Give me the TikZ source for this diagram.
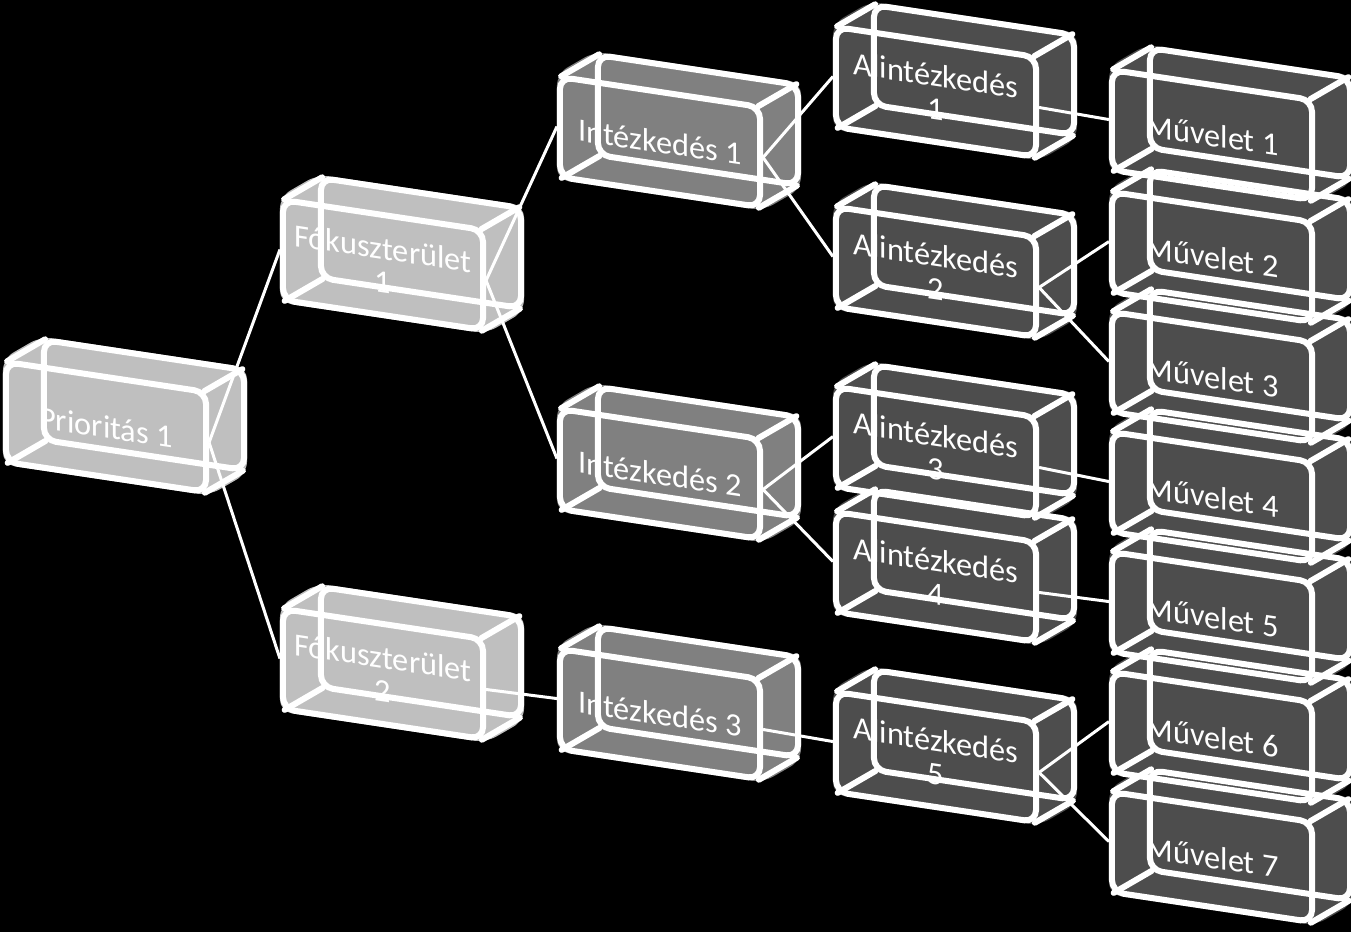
\documentclass[tikz,border=0pt]{standalone}
\usepackage{fontspec}
\setmainfont{Carlito}
\usepackage{tikz}
\usetikzlibrary{calc,backgrounds}
\definecolor{greyLight}{HTML}{BFBFBF}
\definecolor{greyMid}{HTML}{808080}
\definecolor{greyDark}{HTML}{4D4D4D}

\begin{document}
\begin{tikzpicture}[x=0.01cm,y=-0.01cm,font=\fontsize{9.2}{9.6}\selectfont,
  face/.style={draw=white,line width=0.06cm,rounded corners=0.12cm,minimum width=2cm,minimum height=1cm,inner sep=0pt,yslant=-0.15,text=white,align=center},
  edge/.style={white,line width=0.06cm,line cap=round},
  link/.style={white,line width=0.03cm}]
\useasboundingbox (0,0) rectangle (1351,932);
% priority and focus areas
\node[face] (p1) at (106,427) {Prioritás 1};
\node[face] (f1) at (383,265) {Fókuszterület\\1};
\node[face] (f2) at (383,674) {Fókuszterület\\2};
% measures
\node[face] (i1) at (660,142) {Intézkedés 1};
\node[face] (i2) at (660,474) {Intézkedés 2};
\node[face] (i3) at (660,714) {Intézkedés 3};
% sub-measures
\node[face] (a1) at (936,92) {Alintézkedés\\1};
\node[face] (a2) at (936,272) {Alintézkedés\\2};
\node[face] (a3) at (936,452) {Alintézkedés\\3};
\node[face] (a4) at (936,577) {Alintézkedés\\4};
\node[face] (a5) at (936,757) {Alintézkedés\\5};
% operations
\node[face] (m1) at (1212,135) {Művelet 1};
\node[face] (m2) at (1212,257) {Művelet 2};
\node[face] (m3) at (1212,377) {Művelet 3};
\node[face] (m4) at (1212,497) {Művelet 4};
\node[face] (m5) at (1212,617) {Művelet 5};
\node[face] (m6) at (1212,737) {Művelet 6};
\node[face] (m7) at (1212,857) {Művelet 7};
% back faces and depth edges
\foreach \b in {p1,f1,f2,i1,i2,i3,a1,a2,a3,a4,a5,m1,m2,m3,m4,m5,m6,m7} {
  \node[face] (\b-back) at ([shift={(38,-22)}]\b.center) {};
  \foreach \k in {north west,north east,south east,south west}
    \draw[edge] ($(\b.\k)!0.05cm!(\b.center)$) -- ($(\b-back.\k)!0.05cm!(\b-back.center)$);
}
% connectors
\draw[link] (p1.east) -- (f1.west);
\draw[link] (p1.east) -- (f2.west);
\draw[link] (f1.east) -- (i1.west);
\draw[link] (f1.east) -- (i2.west);
\draw[link] (f2.east) -- (i3.west);
\draw[link] (i1.east) -- (a1.west);
\draw[link] (i1.east) -- (a2.west);
\draw[link] (i2.east) -- (a3.west);
\draw[link] (i2.east) -- (a4.west);
\draw[link] (i3.east) -- (a5.west);
\draw[link] (a1.east) -- (m1.west);
\draw[link] (a2.east) -- (m2.west);
\draw[link] (a2.east) -- (m3.west);
\draw[link] (a3.east) -- (m4.west);
\draw[link] (a4.east) -- (m5.west);
\draw[link] (a5.east) -- (m6.west);
\draw[link] (a5.east) -- (m7.west);
% fills behind
\begin{scope}[on background layer]
\fill[black] (0,0) rectangle (1351,932);
\foreach \b/\c in {p1/greyLight,f1/greyLight,f2/greyLight,i1/greyMid,i2/greyMid,i3/greyMid,
  a1/greyDark,a2/greyDark,a3/greyDark,a4/greyDark,a5/greyDark,m1/greyDark,m2/greyDark,
  m3/greyDark,m4/greyDark,m5/greyDark,m6/greyDark,m7/greyDark}
  \fill[\c,rounded corners=0.12cm] (\b.north west) -- (\b-back.north west) -- (\b-back.north east)
    -- (\b-back.south east) -- (\b.south east) -- (\b.south west) -- cycle;
\end{scope}
\end{tikzpicture}
\end{document}
